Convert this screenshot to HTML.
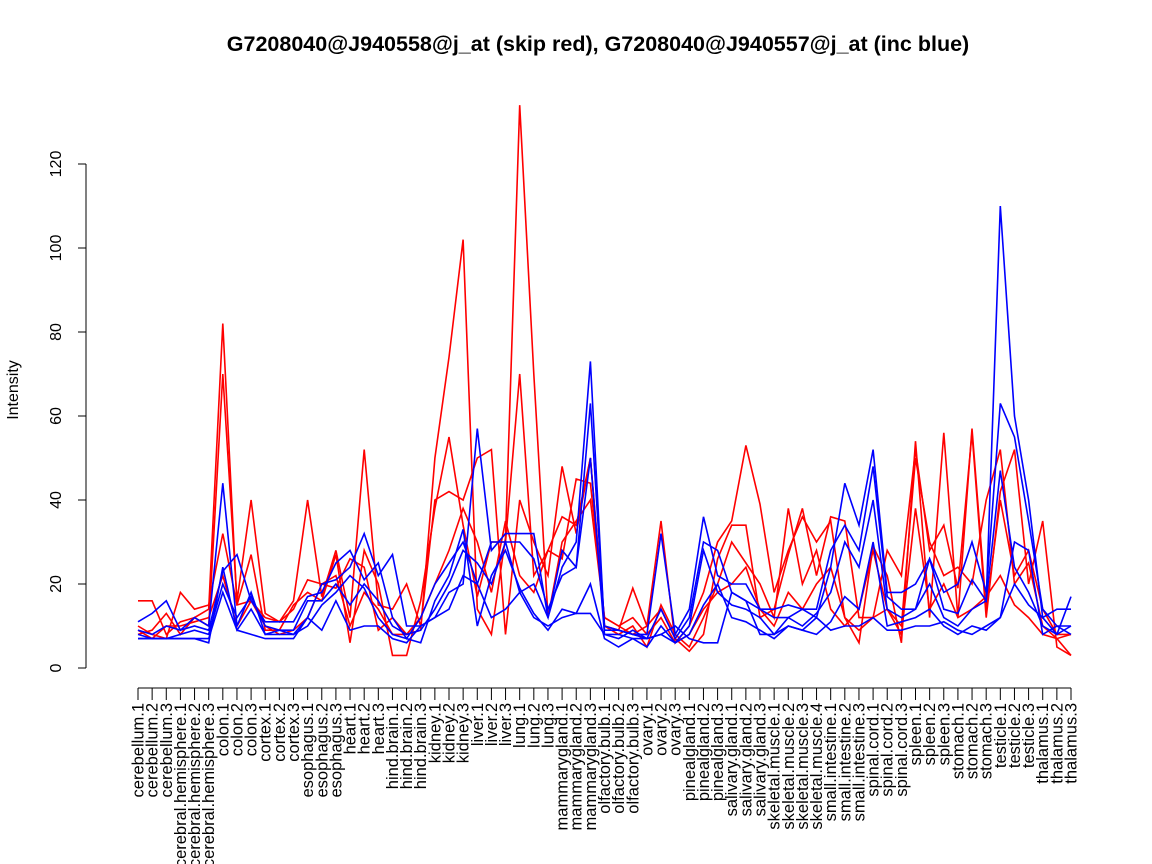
<!DOCTYPE html>
<html><head><meta charset="utf-8"><style>
body{margin:0;background:#fff}
svg{display:block;font-family:"Liberation Sans",sans-serif}
</style></head><body>
<svg id="chart" width="1152" height="864" viewBox="0 0 1152 864">
<text x="598" y="51" text-anchor="middle" font-size="21.5" font-weight="bold">G7208040@J940558@j_at (skip red), G7208040@J940557@j_at (inc blue)</text>
<text transform="translate(18,390) rotate(-90)" text-anchor="middle" font-size="16">Intensity</text>
<g id="axes"></g><g id="lines"></g>
</svg>
<script>
const categories=["cerebellum.1","cerebellum.2","cerebellum.3","cerebral.hemisphere.1","cerebral.hemisphere.2","cerebral.hemisphere.3","colon.1","colon.2","colon.3","cortex.1","cortex.2","cortex.3","esophagus.1","esophagus.2","esophagus.3","heart.1","heart.2","heart.3","hind.brain.1","hind.brain.2","hind.brain.3","kidney.1","kidney.2","kidney.3","liver.1","liver.2","liver.3","lung.1","lung.2","lung.3","mammarygland.1","mammarygland.2","mammarygland.3","olfactory.bulb.1","olfactory.bulb.2","olfactory.bulb.3","ovary.1","ovary.2","ovary.3","pinealgland.1","pinealgland.2","pinealgland.3","salivary.gland.1","salivary.gland.2","salivary.gland.3","skeletal.muscle.1","skeletal.muscle.2","skeletal.muscle.3","skeletal.muscle.4","small.intestine.1","small.intestine.2","small.intestine.3","spinal.cord.1","spinal.cord.2","spinal.cord.3","spleen.1","spleen.2","spleen.3","stomach.1","stomach.2","stomach.3","testicle.1","testicle.2","testicle.3","thalamus.1","thalamus.2","thalamus.3"];
const yTicks=[0,20,40,60,80,100,120];
const red1=[16,16,8,11,12,14,82,15,16,12,11,14,21,20,19,26,24,9,12,8,9,50,74,102,14,8,31,134,70,12,30,35,40,12,10,8,10,35,6,10,18,30,35,53,39,18,28,36,30,35,12,6,29,22,6,54,12,56,12,57,14,40,22,28,14,8,8];
const red2=[8,9,13,8,12,10,70,16,40,13,11,16,40,17,28,12,52,15,14,20,10,40,42,40,50,52,8,40,30,22,48,32,50,10,9,19,10,14,7,4,8,26,34,34,12,14,27,38,22,36,35,12,12,28,22,52,28,34,19,56,12,42,52,20,35,5,3];
const red3=[10,8,7,18,14,15,32,15,27,9,9,15,18,16,27,6,28,20,3,3,16,38,55,34,17,30,30,70,22,28,36,34,50,10,8,10,5,15,8,5,12,20,30,25,20,12,38,20,28,14,10,14,28,14,10,50,30,22,24,20,40,52,20,25,10,7,3];
const red4=[9,7,10,10,11,12,22,10,16,10,8,9,12,20,22,10,18,14,8,8,12,20,28,38,30,18,35,22,18,28,26,45,44,12,10,12,8,12,6,8,14,18,20,24,14,10,18,14,20,24,12,9,12,14,8,38,14,20,12,14,17,22,15,12,8,7,8];
const blue1=[11,13,16,9,12,10,44,10,18,8,9,8,12,20,21,24,32,22,27,10,10,12,18,20,57,28,32,32,32,12,24,30,73,9,9,8,8,32,8,14,36,22,20,20,14,12,12,14,12,24,44,34,52,18,18,20,26,14,13,21,16,110,60,40,12,14,14];
const blue2=[9,8,10,9,10,9,23,27,16,11,11,11,17,18,25,28,21,25,12,7,12,20,25,30,20,30,30,30,26,14,22,24,63,10,9,8,7,14,7,12,30,28,18,16,14,14,15,14,14,28,34,28,48,17,14,14,26,18,20,30,18,63,55,35,14,10,10];
const blue3=[8,7,7,8,9,8,20,12,17,10,9,9,16,16,20,15,20,16,10,8,9,14,20,28,25,20,30,18,20,12,28,24,50,8,7,9,7,8,6,10,28,18,15,14,12,8,12,10,13,18,30,24,40,14,12,14,20,12,10,14,16,47,24,18,10,8,17];
const blue4=[7,7,7,7,7,7,18,9,14,8,8,8,10,15,18,22,19,12,8,7,6,16,22,33,10,22,28,19,13,9,14,13,20,7,5,7,5,10,6,8,15,20,12,11,9,7,10,9,8,11,17,14,30,10,11,12,14,10,8,10,9,12,30,28,8,10,8];
const blue5=[7,7,7,7,7,6,24,9,8,7,7,7,12,9,16,9,10,10,7,6,10,12,14,22,20,12,14,18,12,10,12,13,13,8,8,7,7,8,10,7,6,6,18,16,8,8,10,9,12,9,10,10,12,9,9,10,10,11,9,8,10,12,20,15,12,8,10];
const NS="http://www.w3.org/2000/svg";
const x0=138,x1=1071,y0=668,yPer=(668-164)/120;
const xs=i=>x0+(x1-x0)*i/(categories.length-1);
const ys=v=>y0-v*yPer;
const axes=document.getElementById('axes'),lines=document.getElementById('lines');
function mk(t,a,p){const e=document.createElementNS(NS,t);for(const k in a)e.setAttribute(k,a[k]);p.appendChild(e);return e;}
let ya=mk('line',{x1:86,x2:86,y1:ys(0),y2:ys(120),stroke:'#000'},axes);


yTicks.forEach(v=>{
 const t=mk('line',{x1:78,x2:86,y1:ys(v),y2:ys(v),stroke:'#000'},axes);
 
 
 const l=mk('text',{transform:`translate(61,${ys(v)}) rotate(-90)`,'text-anchor':'middle','font-size':16},axes);
 l.textContent=v;
 
 
});
let xa=mk('line',{x1:x0,x2:x1,y1:688,y2:688,stroke:'#000'},axes);


categories.forEach((c,i)=>{
 const t=mk('line',{x1:xs(i),x2:xs(i),y1:688,y2:700,stroke:'#000'},axes);
 
 
 const l=mk('text',{transform:`translate(${xs(i)+5.5},703) rotate(-90)`,'text-anchor':'end','font-size':16.5},axes);
 l.textContent=c;
 
 
});
const series=[[red1,'#ff0000','red-series-1'],[red2,'#ff0000','red-series-2'],[red3,'#ff0000','red-series-3'],[red4,'#ff0000','red-series-4'],[blue1,'#0000ff','blue-series-1'],[blue2,'#0000ff','blue-series-2'],[blue3,'#0000ff','blue-series-3'],[blue4,'#0000ff','blue-series-4'],[blue5,'#0000ff','blue-series-5']];
series.forEach(([d,col,name])=>{
 const p=mk('polyline',{points:d.map((v,i)=>xs(i).toFixed(1)+','+ys(v).toFixed(1)).join(' '),fill:'none',stroke:col,'stroke-width':1.6},lines);
 
 
});
</script>
</body></html>
